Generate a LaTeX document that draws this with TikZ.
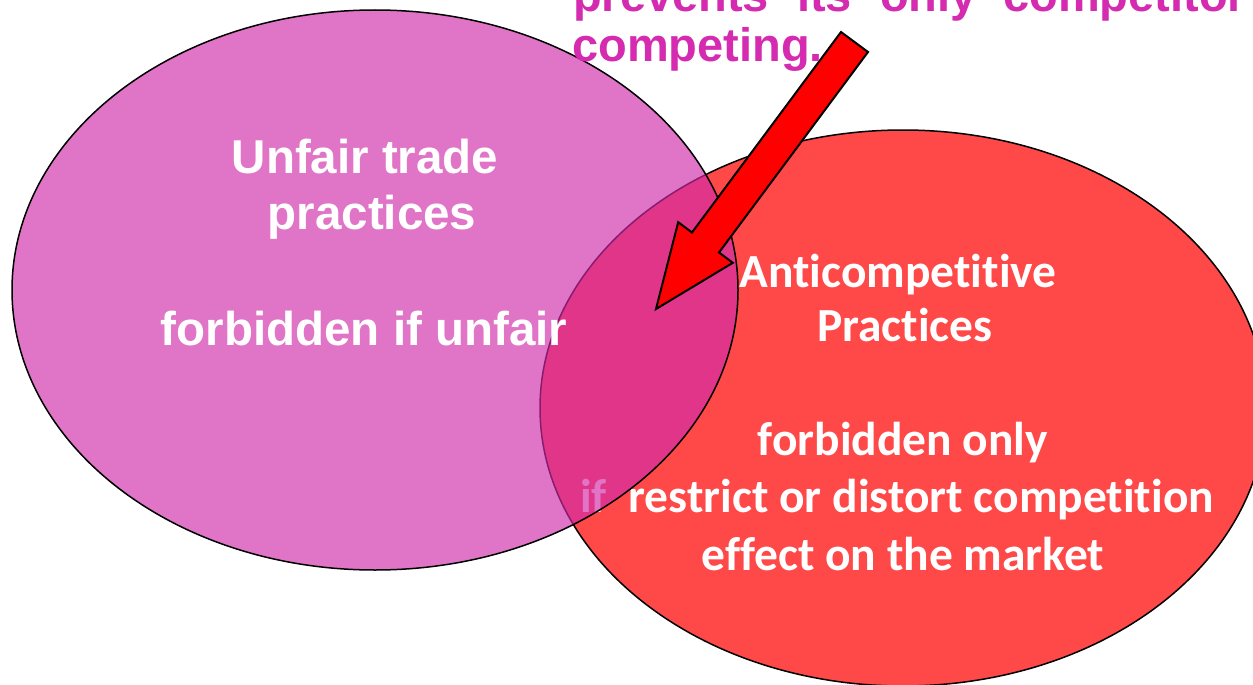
\documentclass[tikz,border=0pt]{standalone}
\usepackage{fontspec}
\setmainfont{Liberation Sans}
\newfontfamily\calibrifont[Ligatures=NoCommon]{Carlito}
\definecolor{redset}{RGB}{255,72,72}
\definecolor{pinkset}{RGB}{208,43,171}
\definecolor{headline}{RGB}{212,43,176}
\definecolor{arrowred}{RGB}{255,0,0}
\tikzset{
  setline/.style={draw=black, line width=1.5pt},
  armtext/.style={text=white, inner sep=0pt, font=\bfseries\fontsize{47.5}{57}\selectfont},
  redtext/.style={text=white, inner sep=0pt, font=\calibrifont\bfseries\fontsize{47.5}{57}\selectfont},
  headtext/.style={text=headline, inner sep=0pt, anchor=base west, font=\bfseries\fontsize{47}{53}\selectfont},
  bigarrow/.style={draw=black, line width=2pt, fill=arrowred, line join=miter}
}
\begin{document}
\begin{tikzpicture}[x=1pt,y=-1pt]
\useasboundingbox (0,0) rectangle (1253,685);
\fill[white] (0,0) rectangle (1253,685);

% anticompetitive practices set (drawn first, lies underneath)
\draw[setline, fill=redset] (903,408) ellipse [x radius=363, y radius=278];
\node[redtext, anchor=base] (anti) at (898,287) {Anticompetitive};
\node[redtext, anchor=base] (practR) at (905,341) {Practices};
\node[redtext, anchor=base] (forbonly) at (903,455) {forbidden only};
\node[redtext, anchor=base west] (restrict) at (580,512) {if\hspace{11pt} restrict or distort competition};
\node[redtext, anchor=base] (effect) at (903,570) {effect on the market};

% unfair trade practices set, translucent on top
\draw[setline, fill=pinkset, fill opacity=0.656] (375,290) ellipse [x radius=363, y radius=280];
\node[armtext, anchor=base] (unfair) at (365,173) {Unfair trade};
\node[armtext, anchor=base] (practL) at (372,229) {practices};
\node[armtext, anchor=base] (forbif) at (364,345) {forbidden if unfair};

% pointer into the overlap
\draw[bigarrow] (841,32) -- (868,52) -- (719,252.5) -- (732.8,262.8) -- (656,309)
  -- (678.2,222.2) -- (692,232.5) -- cycle;

% caption text at the top
\node[headtext] (w1) at (573,12) {prevents};
\node[headtext] (w2) at (797,12) {its};
\node[headtext] (w3) at (880,12) {only};
\node[headtext] (w4) at (1003,12) {competitor};
\node[headtext] (w5) at (572,62) {competing.};
\end{tikzpicture}
\end{document}
